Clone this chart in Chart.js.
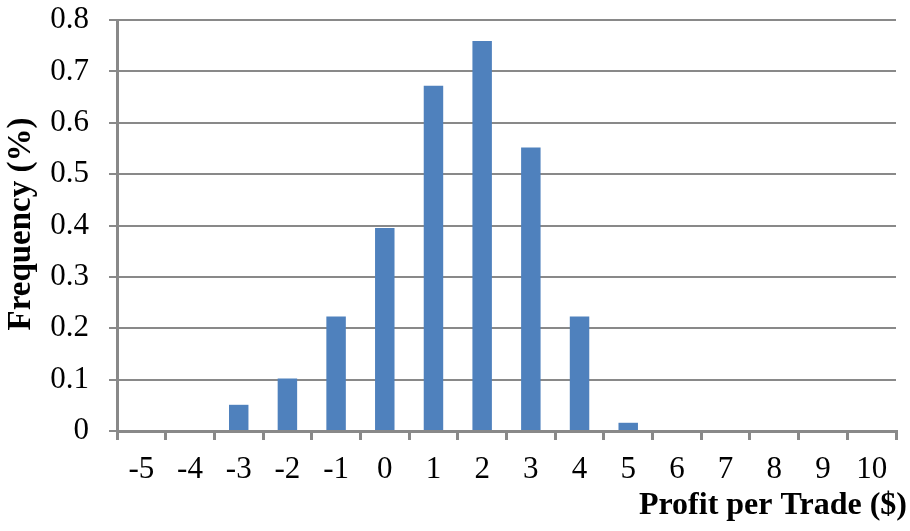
<!DOCTYPE html>
<html>
<head>
<meta charset="utf-8">
<script src="https://cdn.jsdelivr.net/npm/chart.js@4"></script>
<style>
  html, body { margin: 0; padding: 0; background: #fff; }
  #wrap { width: 910px; height: 531px; }
</style>
</head>
<body>
<div id="wrap"><canvas id="profitChart" width="910" height="531"></canvas></div>
<script>
// ========== DATA ==========
const categories = ['-5', '-4', '-3', '-2', '-1', '0', '1', '2', '3', '4', '5', '6', '7', '8', '9', '10'];
const frequency = [0, 0, 0.051, 0.102, 0.223, 0.395, 0.672, 0.759, 0.552, 0.223, 0.016, 0, 0, 0, 0, 0];
const yTicks = [0, 0.1, 0.2, 0.3, 0.4, 0.5, 0.6, 0.7, 0.8];

const xTitle = 'Profit per Trade ($)';
const yTitle = 'Frequency (%)';

const AXIS_GRAY = '#898989';
const FONT = "'Liberation Serif', 'Times New Roman', serif";

// draw axis titles at fixed spots
const titlesPlugin = {
    id: 'axisTitles',
    afterDraw(chart) {
        const ctx = chart.ctx;
        ctx.save();
        ctx.fillStyle = '#000';
        ctx.font = 'bold 32px ' + FONT;
        ctx.textAlign = 'right';
        ctx.textBaseline = 'alphabetic';
        ctx.fillText(xTitle, 907, 514);

        ctx.font = 'bold 33px ' + FONT;
        ctx.translate(30, 224);
        ctx.rotate(-Math.PI / 2);
        ctx.textAlign = 'center';
        ctx.fillText(yTitle, 0, 0);
        ctx.restore();
    }
};

function createProfitChart() {
    const ctx = document.getElementById('profitChart');
    if (!ctx) return;

    window.profitChart = new Chart(ctx, {
        type: 'bar',
        data: {
            labels: categories,
            datasets: [{
                label: 'Frequency',
                data: frequency,
                backgroundColor: '#4F81BD',
                borderWidth: 0,
                categoryPercentage: 1.0,
                barPercentage: 0.4
            }]
        },
        options: {
            responsive: false,
            animation: false,
            devicePixelRatio: 1,
            layout: { padding: { left: 0, top: 20, right: 14, bottom: 0 } },
            plugins: {
                legend: { display: false },
                tooltip: { enabled: false }
            },
            scales: {
                x: {
                    afterFit: s => { s.height = 100; s.paddingLeft = 0; s.paddingRight = 0; },
                    border: { color: AXIS_GRAY, width: 3 },
                    grid: {
                        offset: true,
                        drawOnChartArea: false,
                        drawTicks: true,
                        tickLength: 9,
                        color: AXIS_GRAY,
                        lineWidth: 3
                    },
                    ticks: {
                        color: '#000',
                        font: { family: FONT, size: 31 },
                        padding: 11,
                        maxRotation: 0,
                        autoSkip: false
                    }
                },
                y: {
                    min: 0,
                    max: 0.8,
                    afterFit: s => { s.width = 117; s.paddingTop = 0; s.paddingBottom = 0; },
                    afterBuildTicks: s => { s.ticks = yTicks.map(v => ({ value: v })); },
                    border: { color: AXIS_GRAY, width: 3 },
                    grid: {
                        color: AXIS_GRAY,
                        lineWidth: 2,
                        drawTicks: true,
                        tickLength: 8
                    },
                    ticks: {
                        color: '#000',
                        font: { family: FONT, size: 31 },
                        padding: 20,
                        callback: v => v === 0 ? '0' : String(Math.round(v * 10) / 10)
                    }
                }
            }
        },
        plugins: [titlesPlugin]
    });
}

createProfitChart();
</script>
</body>
</html>
